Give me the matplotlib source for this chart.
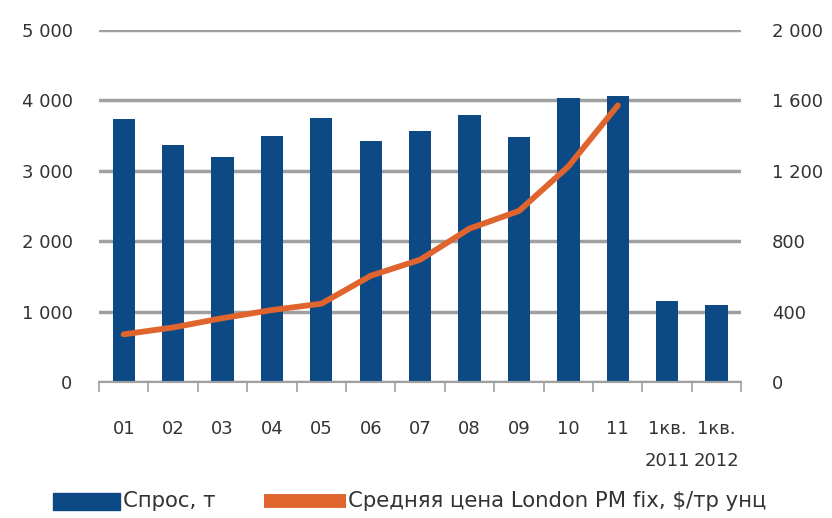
import matplotlib
matplotlib.use("Agg")
import matplotlib.pyplot as plt
import numpy as np
from matplotlib.lines import Line2D
from matplotlib.patches import Rectangle

plt.rcParams['font.family'] = ['DejaVu Sans']

# данные
categories = ["01", "02", "03", "04", "05", "06", "07", "08", "09", "10", "11",
              "1кв.\n2011", "1кв.\n2012"]
demand = [3740, 3360, 3190, 3500, 3750, 3430, 3560, 3800, 3480, 4040, 4070, 1150, 1100]
price = [271, 310, 363, 409, 445, 604, 695, 872, 972, 1225, 1572]

left_ticks = [0, 1000, 2000, 3000, 4000, 5000]
left_labels = ["0", "1 000", "2 000", "3 000", "4 000", "5 000"]
right_ticks = [0, 400, 800, 1200, 1600, 2000]
right_labels = ["0", "400", "800", "1 200", "1 600", "2 000"]

bar_color = "#0d4a85"
line_color = "#e0642e"
text_color = "#333333"
grid_color = "#a0a0a0"

fig = plt.figure(figsize=(8.32, 5.18), dpi=100)
ax = fig.add_axes([0.119, 0.2625, 0.772, 0.6795])
x = np.arange(len(categories))

ax.set_axisbelow(True)
ax.bar(x, demand, width=0.45, color=bar_color, zorder=2)
ax.set_xlim(-0.5, len(categories) - 0.5)
ax.set_ylim(0, 5000)
ax.set_yticks(left_ticks)
ax.set_yticklabels(left_labels)
ax.yaxis.grid(True, color=grid_color, linewidth=2.5)
for s in ["top", "right", "left"]:
    ax.spines[s].set_visible(False)
ax.spines["bottom"].set_color(grid_color)
ax.spines["bottom"].set_linewidth(1.5)
ax.tick_params(axis="y", length=0, pad=19, labelsize=13, labelcolor=text_color)

ax.set_xticks(x)
ax.set_xticklabels(categories, linespacing=2.05)
ax.tick_params(axis="x", length=0, pad=27, labelsize=13, labelcolor=text_color)
ax.set_xticks(np.arange(-0.5, len(categories)), minor=True)
ax.tick_params(axis="x", which="minor", length=7, color=grid_color, width=1.2)

ax2 = ax.twinx()
ax2.plot(x[:len(price)], price, color=line_color, linewidth=4.2, solid_capstyle="round", zorder=3)
ax2.set_ylim(0, 2000)
ax2.set_yticks(right_ticks)
ax2.set_yticklabels(right_labels)
for s in ["top", "right", "left", "bottom"]:
    ax2.spines[s].set_visible(False)
ax2.tick_params(axis="y", length=0, pad=22, labelsize=13, labelcolor=text_color)

# легенда
W, H = 832.0, 518.0
ly = 1 - 501 / H
fig.patches.append(Rectangle((53 / W, 1 - 510 / H), 67 / W, 17 / H,
                             transform=fig.transFigure, color=bar_color))
fig.text(123 / W, ly, "Спрос, т", fontsize=15.3, color=text_color, va="center")
fig.lines.append(Line2D([264 / W, 346 / W], [ly, ly], transform=fig.transFigure,
                        color=line_color, linewidth=10, solid_capstyle="butt"))
fig.text(348 / W, ly, "Средняя цена London PM fix, $/тр унц", fontsize=15.3,
         color=text_color, va="center")

fig.savefig("out.png", dpi=100)
